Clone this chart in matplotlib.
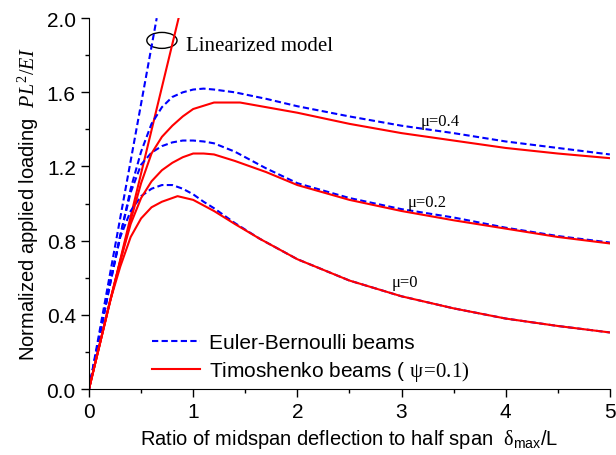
import numpy as np
import matplotlib
matplotlib.use("Agg")
import matplotlib.pyplot as plt
from matplotlib.patches import Ellipse

plt.rcParams['font.family'] = ['Liberation Sans', 'DejaVu Sans']
plt.rcParams['mathtext.fontset'] = 'custom'
plt.rcParams['mathtext.rm'] = 'Liberation Serif'
plt.rcParams['mathtext.it'] = 'Liberation Serif:italic'
plt.rcParams['mathtext.sf'] = 'Liberation Sans'

# Euler-Bernoulli curves (dashed blue)
eb04_x = [0, 0.2, 0.4, 0.5, 0.6, 0.7, 0.8, 0.9, 1.0, 1.1, 1.2, 1.4, 1.7, 2.0, 2.5, 3.0, 3.5, 4.0, 4.5, 5.0]
eb_04 = [0, 0.57, 1.08, 1.28, 1.43, 1.52, 1.575, 1.60, 1.615, 1.62, 1.615, 1.60, 1.565, 1.525, 1.47, 1.42, 1.38, 1.335, 1.30, 1.265]
eb02_x = [0, 0.2, 0.3, 0.4, 0.5, 0.6, 0.7, 0.8, 0.9, 1.0, 1.1, 1.2, 1.4, 1.7, 2.0, 2.5, 3.0, 3.5, 4.0, 4.5, 5.0]
eb_02 = [0, 0.56, 0.83, 1.06, 1.21, 1.275, 1.31, 1.33, 1.34, 1.34, 1.335, 1.325, 1.28, 1.19, 1.11, 1.03, 0.97, 0.925, 0.87, 0.825, 0.79]
eb00_x = [0, 0.2, 0.3, 0.4, 0.5, 0.6, 0.7, 0.8, 0.9, 1.0, 1.1, 1.2, 1.4, 1.64, 2.0, 2.5, 3.0, 3.5, 4.0, 4.5, 5.0]
eb_00 = [0, 0.56, 0.82, 0.96, 1.04, 1.08, 1.10, 1.10, 1.08, 1.05, 1.01, 0.975, 0.895, 0.81, 0.70, 0.585, 0.50, 0.435, 0.38, 0.34, 0.305]

# Timoshenko curves (solid red)
tb04_x = [0, 0.2, 0.3, 0.4, 0.5, 0.6, 0.7, 0.8, 0.9, 1.0, 1.2, 1.45, 1.7, 2.0, 2.5, 3.0, 3.5, 4.0, 4.5, 5.0]
tb_04 = [0, 0.47, 0.69, 0.91, 1.11, 1.27, 1.36, 1.42, 1.47, 1.51, 1.545, 1.545, 1.52, 1.49, 1.43, 1.38, 1.34, 1.30, 1.27, 1.245]
tb02_x = [0, 0.2, 0.3, 0.4, 0.5, 0.6, 0.7, 0.8, 0.9, 1.0, 1.1, 1.2, 1.4, 1.7, 2.0, 2.5, 3.0, 3.5, 4.0, 4.5, 5.0]
tb_02 = [0, 0.47, 0.69, 0.89, 1.03, 1.12, 1.18, 1.22, 1.25, 1.27, 1.27, 1.265, 1.23, 1.17, 1.10, 1.02, 0.96, 0.91, 0.865, 0.82, 0.785]
tb00_x = [0, 0.2, 0.3, 0.4, 0.5, 0.6, 0.7, 0.85, 1.0, 1.1, 1.2, 1.4, 1.64, 2.0, 2.5, 3.0, 3.5, 4.0, 4.5, 5.0]
tb_00 = [0, 0.47, 0.66, 0.82, 0.92, 0.98, 1.01, 1.04, 1.02, 0.99, 0.96, 0.89, 0.81, 0.70, 0.585, 0.50, 0.435, 0.38, 0.34, 0.305]

# linearized models
lin_eb_x = [0, 0.65]
lin_eb_y = [0, 2.0]
lin_tb_x = [0, 0.86]
lin_tb_y = [0, 2.0]

mu_labels = ['\u03bc=0.4', '\u03bc=0.2', '\u03bc=0']
mu_pos = [(3.37, 1.445), (3.25, 1.01), (3.03, 0.577)]

blue = '#0000ff'
red = '#ff0000'
dash = (0, (3, 1.6))

fig = plt.figure(figsize=(6.16, 4.56), dpi=100)
ax = fig.add_axes([0.1445, 0.1447, 0.8455, 0.8133])

ax.plot(lin_eb_x, lin_eb_y, color=blue, ls=dash, lw=1.5)
ax.plot(lin_tb_x, lin_tb_y, color=red, lw=1.5)
ax.plot(eb04_x, eb_04, color=blue, ls=dash, lw=1.5, label='Euler-Bernoulli beams')
ax.plot(eb02_x, eb_02, color=blue, ls=dash, lw=1.5)
ax.plot(eb00_x, eb_00, color=blue, ls=dash, lw=1.5)
ax.plot(tb04_x, tb_04, color=red, lw=1.5, label=r'Timoshenko beams ( $\mathrm{\psi\!=\!0.1)}$')
ax.plot(tb02_x, tb_02, color=red, lw=1.5)
ax.plot(tb00_x, tb_00, color=red, lw=1.5)

ax.add_patch(Ellipse((0.70, 1.88), 0.29, 0.086, fill=False, ec='black', lw=1))
ax.text(0.93, 1.855, 'Linearized model', family='Liberation Serif', fontsize=15, va='center')
for lab, (px, py) in zip(mu_labels, mu_pos):
    ax.text(px, py, lab, family='Liberation Serif', fontsize=12, ha='center', va='center')

ax.set_xlim(0, 5)
ax.set_ylim(0, 2.0)
ax.set_xticks([0, 1, 2, 3, 4, 5])
ax.set_xticks(np.arange(0, 5.01, 0.5), minor=True)
ax.set_yticks([0, 0.4, 0.8, 1.2, 1.6, 2.0])
ax.set_yticklabels(['0.0', '0.4', '0.8', '1.2', '1.6', '2.0'])
ax.set_yticks(np.arange(0, 2.01, 0.2), minor=True)
ax.tick_params(which='major', direction='out', length=6, width=1, labelsize=15)
ax.tick_params(which='minor', direction='out', length=3, width=1)
ax.spines['top'].set_visible(False)
ax.spines['right'].set_visible(False)

ax.set_xlabel(r'Ratio of midspan deflection to half span  $\mathrm{\delta}_{\mathsf{max}}\mathsf{/L}$', fontsize=14.5)
ax.set_ylabel(r'Normalized applied loading  $PL^2/EI$', fontsize=14.5, labelpad=4)

ax.legend(loc='lower left', bbox_to_anchor=(0.085, -0.035), frameon=False, fontsize=15,
          handlelength=2.3, handletextpad=0.45, labelspacing=0.35)

fig.savefig('out.png', dpi=100)
